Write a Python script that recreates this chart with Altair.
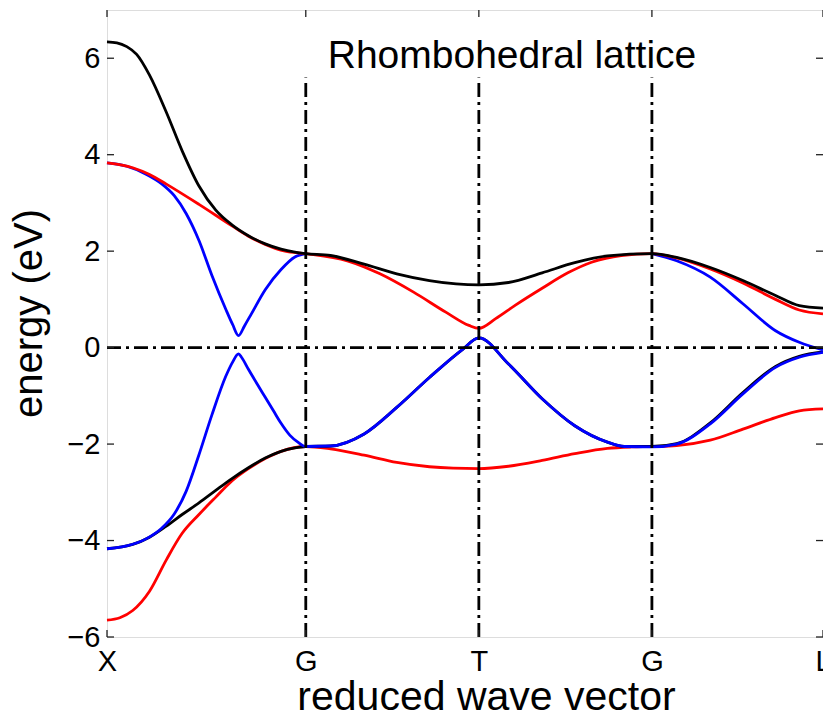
import altair as alt
import pandas as pd

FONT = "Liberation Sans"

# high-symmetry points along the reduced path
tick_pos = [0, 201, 376, 551, 724]
tick_lab = ["X", "G", "T", "G", "L"]
y_ticks = [-6, -4, -2, 0, 2, 4, 6]
vline_pos = [201, 376, 551]
title_text = "Rhombohedral lattice"

# ---- band data (k along path, energy in eV) ----
black_up_k = [0, 10, 20, 30, 43, 60, 76, 93, 110, 126, 143, 160, 176, 190, 201, 226, 260, 293, 326,
              353, 376, 406, 440, 473, 506, 551, 576, 610, 643, 676, 700, 724]
black_up_E = [6.34, 6.32, 6.24, 6.08, 5.65, 4.88, 4.08, 3.35, 2.85, 2.55, 2.32, 2.15, 2.04, 1.98,
              1.95, 1.91, 1.73, 1.53, 1.39, 1.32, 1.30, 1.35, 1.55, 1.76, 1.90, 1.95, 1.87, 1.66,
              1.39, 1.08, 0.87, 0.82]

red_up_k = [0, 26, 43, 60, 93, 126, 143, 160, 180, 201, 243, 276, 310, 343, 366, 376, 393, 413,
            440, 466, 490, 520, 551, 576, 610, 643, 676, 700, 724]
red_up_E = [3.83, 3.73, 3.59, 3.39, 2.97, 2.53, 2.31, 2.14, 2.0, 1.95, 1.8, 1.53, 1.15, 0.73, 0.46,
            0.40, 0.60, 0.88, 1.23, 1.55, 1.77, 1.91, 1.95, 1.86, 1.63, 1.34, 1.0, 0.78, 0.70]

blue_up1_k = [0, 20, 40, 55, 68, 80, 93, 106, 120, 127, 133, 139, 146, 160, 176, 190, 201]
blue_up1_E = [3.83, 3.76, 3.59, 3.40, 3.15, 2.78, 2.22, 1.50, 0.80, 0.48, 0.25, 0.45, 0.70, 1.20,
              1.62, 1.88, 1.95]
blue_up2_k = [551, 576, 610, 643, 676, 700, 724]
blue_up2_E = [1.95, 1.80, 1.46, 0.91, 0.35, 0.11, -0.05]

blue_lo_k = [0, 20, 40, 55, 68, 80, 93, 106, 120, 127, 133, 136, 143, 152, 160, 168, 176, 185,
             193, 201, 226, 260, 293, 326, 360, 376, 406, 440, 473, 506, 523, 551, 576, 610, 643,
             676, 700, 724]
blue_lo_E = [-4.17, -4.11, -3.96, -3.75, -3.45, -2.98, -2.22, -1.40, -0.60, -0.30, -0.13, -0.20,
             -0.45, -0.76, -1.03, -1.30, -1.57, -1.82, -1.96, -2.05, -2.04, -1.79, -1.24, -0.62,
             -0.03, 0.20, -0.34, -1.06, -1.62, -1.96, -2.05, -2.06, -2.0, -1.58, -0.96, -0.41,
             -0.20, -0.10]

black_lo_k = [0, 26, 43, 60, 76, 93, 110, 126, 143, 160, 176, 190, 201, 226, 260, 293, 326, 360,
              376, 406, 440, 473, 506, 523, 551, 576, 610, 643, 676, 700, 724]
black_lo_E = [-4.17, -4.08, -3.93, -3.70, -3.46, -3.22, -2.96, -2.72, -2.49, -2.29, -2.15, -2.08,
              -2.05, -2.04, -1.79, -1.24, -0.62, -0.03, 0.20, -0.34, -1.06, -1.62, -1.96, -2.05,
              -2.05, -1.99, -1.56, -0.93, -0.39, -0.18, -0.09]

red_lo_k = [0, 13, 26, 43, 60, 76, 93, 110, 126, 143, 160, 176, 201, 226, 260, 293, 326, 350, 376,
            406, 440, 473, 506, 530, 551, 576, 610, 643, 676, 700, 724]
red_lo_E = [-5.65, -5.60, -5.45, -5.05, -4.40, -3.85, -3.46, -3.10, -2.77, -2.51, -2.30, -2.15,
            -2.05, -2.10, -2.23, -2.38, -2.47, -2.50, -2.51, -2.46, -2.34, -2.20, -2.09, -2.06,
            -2.05, -2.03, -1.92, -1.69, -1.45, -1.31, -1.27]

W, H = 716, 627

xscale = alt.Scale(domain=[0, 724], nice=False, zero=False)
yscale = alt.Scale(domain=[-6, 7], nice=False, zero=False)

lab_expr = ("datum.value == 0 ? 'X' : datum.value == 201 ? 'G' : datum.value == 376 ? 'T' : "
            "datum.value == 551 ? 'G' : 'L'")

xaxis = alt.Axis(values=tick_pos, labelExpr=lab_expr, title="reduced wave vector", grid=False,
                 ticks=False, domain=False, labelFontSize=29, labelFont=FONT, labelColor="#000",
                 labelPadding=10, labelFlush=False, labelOverlap=False, titleFontSize=41,
                 titleFont=FONT, titleFontWeight="normal", titleColor="#000", titleX=379,
                 titleY=72, titleBaseline="alphabetic")
yaxis = alt.Axis(values=y_ticks, title="energy (eV)", grid=False, ticks=False, domain=False,
                 labelFontSize=29, labelFont=FONT, labelColor="#000", labelPadding=7,
                 labelOverlap=False, labelFlush=False, titleFontSize=40, titleFont=FONT,
                 titleFontWeight="normal", titleColor="#000", titleX=-66, titleY=303,
                 titleBaseline="alphabetic")

X = alt.X("k:Q", scale=xscale, axis=xaxis)
Y = alt.Y("E:Q", scale=yscale, axis=yaxis)


def band(ks, es, color):
    df = pd.DataFrame({"k": ks, "E": es})
    return alt.Chart(df).mark_line(color=color, strokeWidth=2.8, interpolate="monotone").encode(
        x=X, y=Y)


layers = [
    band(red_lo_k, red_lo_E, "#ff0000"),
    band(black_lo_k, black_lo_E, "#000000"),
    band(blue_lo_k, blue_lo_E, "#0000ff"),
    band(blue_up1_k, blue_up1_E, "#0000ff"),
    band(blue_up2_k, blue_up2_E, "#0000ff"),
    band(red_up_k, red_up_E, "#ff0000"),
    band(black_up_k, black_up_E, "#000000"),
]

vdf = pd.DataFrame({"k": vline_pos, "E": [-6] * 3, "E2": [5.6] * 3})
vlines = alt.Chart(vdf).mark_rule(color="#000", strokeWidth=2.8, strokeDash=[14, 5, 3, 5]).encode(
    x=X, y=Y, y2="E2:Q")
hdf = pd.DataFrame({"k": [0], "k2": [724], "E": [0]})
hline = alt.Chart(hdf).mark_rule(color="#000", strokeWidth=2.8, strokeDash=[14, 5, 3, 5]).encode(
    x=X, x2="k2:Q", y=Y)

ydf = pd.DataFrame({"E": y_ticks})
xdf = pd.DataFrame({"k": tick_pos})
tick_style = dict(color="#222", strokeWidth=1.3)
yt_left = alt.Chart(ydf).mark_rule(**tick_style).encode(y=Y, x=alt.value(0), x2=alt.value(7))
yt_right = alt.Chart(ydf).mark_rule(**tick_style).encode(y=Y, x=alt.value(W - 7), x2=alt.value(W))
xt_bot = alt.Chart(xdf).mark_rule(**tick_style).encode(x=X, y=alt.value(H - 7), y2=alt.value(H))
xt_top = alt.Chart(xdf).mark_rule(**tick_style).encode(x=X, y=alt.value(0), y2=alt.value(7))

title_mark = alt.Chart(pd.DataFrame({"t": [title_text]})).mark_text(
    font=FONT, fontSize=39, color="#000", align="center", baseline="alphabetic").encode(
    text="t:N", x=alt.value(405), y=alt.value(58))

chart = alt.layer(*layers, vlines, hline, yt_left, yt_right, xt_bot, xt_top, title_mark).properties(
    width=W, height=H,
    padding={"left": 99, "top": 2, "right": 0, "bottom": 80},
    autosize=alt.AutoSizeParams(type="none"),
).configure_view(stroke="#222", strokeWidth=1.5).configure(background="white")

chart.save("out.html", embed_options={"renderer": "svg", "actions": False})
